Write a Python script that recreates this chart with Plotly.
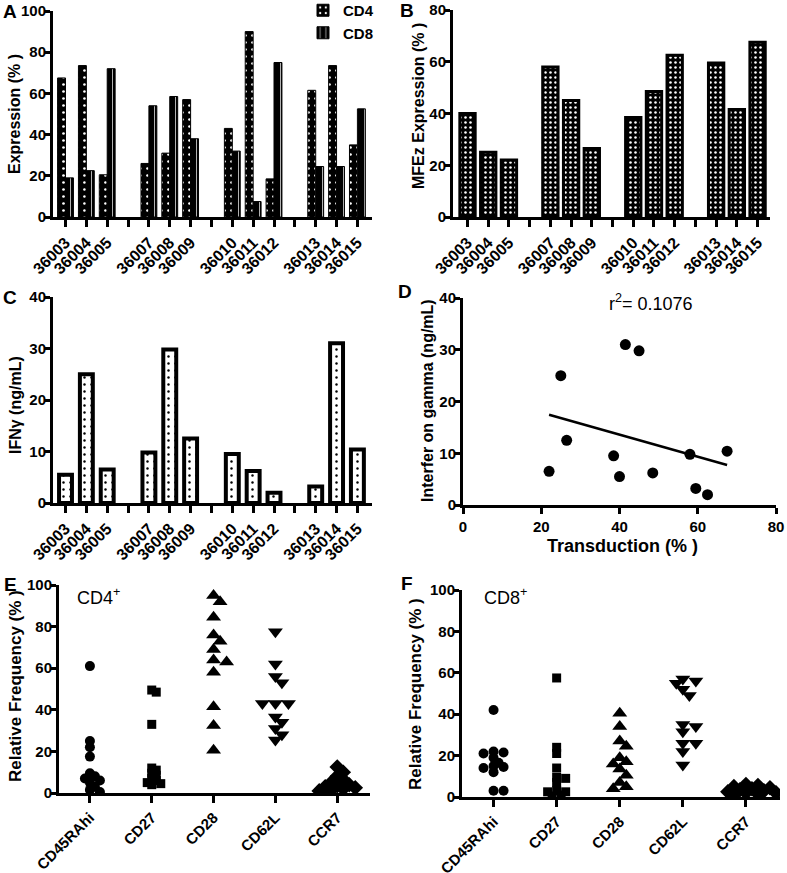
import numpy as np
import plotly.graph_objects as go

# ---------------- data ----------------
samples = ["36003", "36004", "36005", "36007", "36008", "36009",
           "36010", "36011", "36012", "36013", "36014", "36015"]
cd4_expression = [67.5, 73.5, 20.5, 26, 31, 57, 43, 90, 18.5, 61.5, 73.5, 35]
cd8_expression = [19, 22.5, 72, 54, 58.5, 38, 32, 7.5, 75, 24.5, 24.5, 52.5]
mfez_expression = [40, 25, 22, 58, 45, 26.5, 38.5, 48.5, 62.5, 59.5, 41.5, 67.5]
ifn_gamma = [5.5, 25, 6.5, 9.8, 29.8, 12.5, 9.5, 6.2, 2, 3.2, 31, 10.4]
r2_label = "0.1076"

phenotypes = ["CD45RAhi", "CD27", "CD28", "CD62L", "CCR7"]
cd4_cd45rahi = [61, 25, 22, 17.5, 9.5, 8, 7, 6, 5, 3, 1.5, 0.5]
cd4_cd27 = [49.5, 48.5, 33, 12, 11, 9.5, 8.5, 7, 6, 5, 4.5, 4]
cd4_cd28 = [95, 92, 84.5, 76, 73, 69, 64, 63, 58, 41.5, 32.5, 20.5]
cd4_cd62l = [77.5, 62, 56, 53, 43, 43, 43, 36.5, 34, 31, 28, 25.5]
cd4_ccr7 = [12.5, 10, 8, 6.5, 5, 4, 3.5, 3, 2.5, 2, 1.5, 1]

cd8_cd45rahi = [42, 22, 21.5, 21, 19, 16.5, 15, 14.5, 14, 12, 3, 3]
cd8_cd27 = [57.5, 24, 21, 14, 9.5, 9, 7, 3, 2.5, 2.5, 1, 0.5]
cd8_cd28 = [40.5, 34, 27, 24.5, 19, 17, 16, 13.5, 10.5, 7, 5, 4]
cd8_cd62l = [57, 56, 55, 52, 49, 35, 34, 31.5, 26, 26, 22, 15.5]
cd8_ccr7 = [6, 5.5, 5, 4.5, 4, 3.5, 3, 2.5, 2, 2, 1.5, 1]

# ---------------- layout helpers ----------------
W, H = 787, 873
FONT = "Liberation Sans, Arial, sans-serif"


def px_x(x):
    return x / W


def px_y(y):
    return 1 - y / H


fig = go.Figure()

slot = [i + i // 3 for i in range(len(samples))]
slot_ticks = list(range(max(slot) + 1))
slot_text = [""] * len(slot_ticks)
for s, lab in zip(slot, samples):
    slot_text[s] = lab

axis_common = dict(showline=True, linewidth=3, linecolor="black", ticks="outside",
                   ticklen=6, tickwidth=3, tickcolor="black", showgrid=False,
                   zeroline=False, automargin=False,
                   tickfont=dict(family=FONT, size=15, color="black", weight="bold"))
bar_xfont = dict(family=FONT, size=16, color="black", weight="bold")


def set_axes(idx, xdom, ydom, xr, yr, **kw):
    sx = "" if idx == 1 else str(idx)
    xa = dict(axis_common, domain=[px_x(xdom[0]), px_x(xdom[1])], range=xr,
              anchor="y" + sx)
    ya = dict(axis_common, domain=[px_y(ydom[0]), px_y(ydom[1])], range=yr,
              anchor="x" + sx, ticklabelstandoff=-5)
    xa.update(kw.get("xa", {}))
    ya.update(kw.get("ya", {}))
    fig.update_layout(**{"xaxis" + sx: xa, "yaxis" + sx: ya})


# ---------------- Panel A ----------------
fig.add_trace(go.Bar(x=slot, y=cd4_expression, width=0.38, offset=-0.38, name="CD4",
                     marker=dict(color="black", line=dict(color="black", width=1),
                                 pattern=dict(shape=".", fgcolor="white", bgcolor="black",
                                              size=7, solidity=0.12)),
                     xaxis="x", yaxis="y", showlegend=True))
fig.add_trace(go.Bar(x=slot, y=cd8_expression, width=0.38, offset=0.0, name="CD8",
                     marker=dict(color="black", line=dict(color="black", width=1),
                                 pattern=dict(shape="|", fgcolor="white", bgcolor="black",
                                              size=7, solidity=0.1)),
                     xaxis="x", yaxis="y", showlegend=True))
set_axes(1, (53, 372), (217, 11), [-0.6, 14.7], [0, 100],
         xa=dict(tickvals=slot_ticks, ticktext=slot_text, tickangle=-45, ticklen=7,
                 tickfont=bar_xfont),
         ya=dict(tickvals=[0, 20, 40, 60, 80, 100]))

# ---------------- Panel B ----------------
fig.add_trace(go.Bar(x=slot, y=mfez_expression, width=0.74, showlegend=False,
                     marker=dict(color="black", line=dict(color="black", width=3),
                                 pattern=dict(shape=".", fgcolor="white", bgcolor="black",
                                              size=5, solidity=0.2)),
                     xaxis="x2", yaxis="y2"))
set_axes(2, (453, 770), (217, 10), [-0.7, 14.6], [0, 80],
         xa=dict(tickvals=slot_ticks, ticktext=slot_text, tickangle=-45, ticklen=7,
                 tickfont=bar_xfont),
         ya=dict(tickvals=[0, 20, 40, 60, 80]))

# ---------------- Panel C ----------------
fig.add_trace(go.Bar(x=slot, y=ifn_gamma, width=0.62, showlegend=False,
                     marker=dict(color="white", line=dict(color="black", width=4),
                                 pattern=dict(shape=".", fgcolor="black", bgcolor="white",
                                              size=7, solidity=0.1)),
                     xaxis="x3", yaxis="y3"))
set_axes(3, (53, 372), (503, 297), [-0.6, 14.7], [0, 40],
         xa=dict(tickvals=slot_ticks, ticktext=slot_text, tickangle=-45, ticklen=7,
                 tickfont=bar_xfont),
         ya=dict(tickvals=[0, 10, 20, 30, 40]))

# ---------------- Panel D ----------------
fig.add_trace(go.Scatter(x=mfez_expression, y=ifn_gamma, mode="markers", showlegend=False,
                         marker=dict(symbol="circle", size=11, color="black"),
                         xaxis="x4", yaxis="y4"))
slope, intercept = np.polyfit(mfez_expression, ifn_gamma, 1)
xfit = np.array([min(mfez_expression), max(mfez_expression)])
fig.add_trace(go.Scatter(x=xfit, y=slope * xfit + intercept, mode="lines", showlegend=False,
                         line=dict(color="black", width=2.5), xaxis="x4", yaxis="y4"))
set_axes(4, (463, 776), (505, 298), [0, 80], [0, 40],
         xa=dict(tickvals=[0, 20, 40, 60, 80]),
         ya=dict(tickvals=[0, 10, 20, 30, 40]))


# ---------------- Panels E, F (scatter dot plots) ----------------
def beeswarm(vals, diam_px, xppu, yppu, overlap=0.55):
    order = sorted(range(len(vals)), key=lambda i: -vals[i])
    placed = []
    offs = [0.0] * len(vals)
    step = diam_px / 2.0
    cands = [0]
    for k in range(1, 12):
        cands += [k, -k]
    for i in order:
        y = vals[i] * yppu
        xo = 0.0
        for k in cands:
            x = k * step
            if all((x - px) ** 2 + (y - py) ** 2 >= (overlap * diam_px) ** 2
                   for px, py in placed):
                xo = x
                break
        placed.append((xo, y))
        offs[i] = xo / xppu
    return offs


symbols = ["circle", "square", "triangle-up", "triangle-down", "diamond"]
sizes = [10, 9, 13, 13, 12]


def dot_panel(groups, ax, xppu, yppu):
    for gi, (vals, sym, sz) in enumerate(zip(groups, symbols, sizes)):
        offs = beeswarm(vals, sz, xppu, yppu)
        fig.add_trace(go.Scatter(x=[gi + o for o in offs], y=vals, mode="markers",
                                 showlegend=False,
                                 marker=dict(symbol=sym, size=sz, color="black"),
                                 xaxis="x" + ax, yaxis="y" + ax))


ef_xfont = dict(family=FONT, size=15, color="black", weight="bold")
dot_panel([cd4_cd45rahi, cd4_cd27, cd4_cd28, cd4_cd62l, cd4_ccr7], "5", 61.75, 2.08)
set_axes(5, (59, 370), (793, 585), [-0.5, 4.53], [0, 100],
         xa=dict(tickvals=list(range(5)), ticktext=phenotypes, tickangle=-45, ticklen=7,
                 tickfont=ef_xfont),
         ya=dict(tickvals=[0, 20, 40, 60, 80, 100]))

dot_panel([cd8_cd45rahi, cd8_cd27, cd8_cd28, cd8_cd62l, cd8_ccr7], "6", 63.0, 2.07)
set_axes(6, (462, 780), (797, 590), [-0.5, 4.54], [0, 100],
         xa=dict(tickvals=list(range(5)), ticktext=phenotypes, tickangle=-45, ticklen=7,
                 tickfont=ef_xfont),
         ya=dict(tickvals=[0, 20, 40, 60, 80, 100]))

# ---------------- annotations ----------------
ann = []


def text(x, y, s, size=16, bold=True, angle=0):
    ann.append(dict(x=px_x(x), y=px_y(y), xref="paper", yref="paper", text=s,
                    showarrow=False, textangle=angle, xanchor="center", yanchor="middle",
                    font=dict(family=FONT, size=size, color="black",
                              weight="bold" if bold else "normal")))


text(10, 12, "A", 19)
text(407, 11, "B", 19)
text(10, 297, "C", 19)
text(405, 292, "D", 19)
text(10, 584, "E", 19)
text(407, 583, "F", 19)

text(15, 114, "Expression (% )", 16, angle=-90)
text(418, 106, "MFEz Expression (% )", 16, angle=-90)
text(15, 405, "IFN\u03b3 (ng/mL)", 16, angle=-90)
text(428, 401, "Interfer on gamma (ng/mL)", 16, angle=-90)
text(15, 686, "Relative Frequency (% )", 17, angle=-90)
text(415, 694, "Relative Frequency (% )", 17, angle=-90)
text(622, 546, "Transduction (% )", 18)
text(651, 302, "r<sup>2</sup>= " + r2_label, 18, bold=False)
text(98, 596, "CD4<sup>+</sup>", 18, bold=False)
text(505, 596, "CD8<sup>+</sup>", 18, bold=False)

fig.update_layout(
    template="none",
    width=W, height=H, margin=dict(l=0, r=0, t=0, b=0, autoexpand=False),
    paper_bgcolor="white", plot_bgcolor="white", barmode="overlay",
    annotations=ann,
    legend=dict(x=px_x(303), y=px_y(-6), xanchor="left", yanchor="top",
                font=dict(family=FONT, size=15, color="black", weight="bold"),
                bgcolor="rgba(0,0,0,0)", itemwidth=30),
)

fig.write_html("out.html", config={"displayModeBar": False},
               post_script="document.body.style.margin='0px';")
